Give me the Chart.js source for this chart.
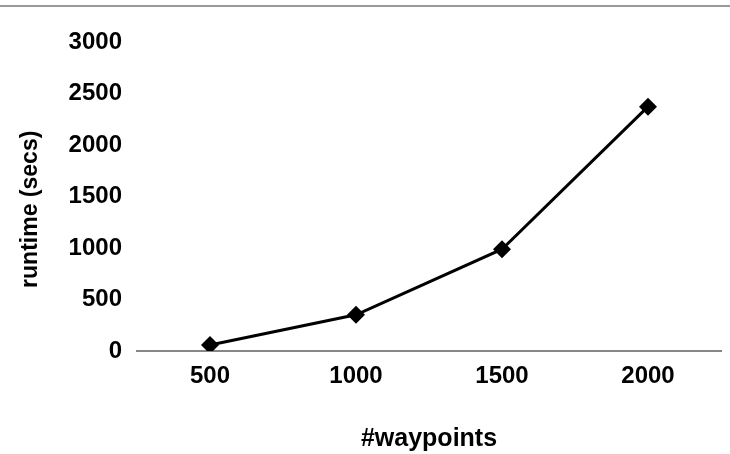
<!DOCTYPE html>
<html>
<head>
<meta charset="utf-8">
<script src="https://cdn.jsdelivr.net/npm/chart.js@4/dist/chart.umd.min.js"></script>
<style>
  html, body { margin: 0; padding: 0; background: #fff; }
  #wrap { width: 730px; height: 454px; }
</style>
</head>
<body>
<div id="wrap"><canvas id="grafica" width="730" height="454"></canvas></div>
<script>
const waypoints = ['500', '1000', '1500', '2000'];
const runtimes = [58, 352, 988, 2372];
const yTicks = [0, 500, 1000, 1500, 2000, 2500, 3000];

// linea gris arriba del grafico
const topLine = {
    id: 'topLine',
    beforeDraw(chart) {
        const c = chart.ctx;
        c.save();
        c.strokeStyle = '#9a9a9a';
        c.lineWidth = 2;
        c.beginPath();
        c.moveTo(0, 6);
        c.lineTo(chart.width, 6);
        c.stroke();
        c.restore();
    }
};

const ctx = document.getElementById('grafica').getContext('2d');
new Chart(ctx, {
    type: 'line',
    data: {
        labels: waypoints,
        datasets: [{
            data: runtimes,
            borderColor: '#000',
            borderWidth: 3,
            backgroundColor: '#000',
            pointStyle: 'rectRot',
            pointRadius: 9,
            pointBorderWidth: 0,
            fill: false,
            tension: 0
        }]
    },
    options: {
        responsive: false,
        animation: false,
        layout: { padding: { top: 42, right: 5, bottom: 0, left: 0 } },
        plugins: { legend: { display: false }, tooltip: { enabled: false } },
        scales: {
            x: {
                offset: true,
                grid: { display: false, drawTicks: false },
                border: { display: true, color: '#868686', width: 2 },
                ticks: {
                    color: '#000',
                    padding: 11,
                    font: { family: 'Liberation Sans', size: 24, weight: 'bold' }
                },
                title: {
                    display: true,
                    text: '#waypoints',
                    color: '#000',
                    padding: { top: 4, bottom: 0 },
                    font: { family: 'Liberation Sans', size: 25, weight: 'bold' }
                },
                afterFit(scale) { scale.height = 103; }
            },
            y: {
                min: 0,
                max: 3000,
                grid: { display: false, drawTicks: false },
                border: { display: false },
                afterBuildTicks(scale) {
                    scale.ticks = yTicks.map(v => ({ value: v }));
                },
                ticks: {
                    color: '#000',
                    padding: 15,
                    callback: v => String(v),
                    font: { family: 'Liberation Sans', size: 24, weight: 'bold' }
                },
                title: {
                    display: true,
                    text: 'runtime (secs)    ', // espacios para bajar el titulo
                    color: '#000',
                    padding: { top: 17, bottom: 0 },
                    font: { family: 'Liberation Sans', size: 23, weight: 'bold' }
                },
                afterFit(scale) { scale.width = 137; }
            }
        }
    },
    plugins: [topLine]
});
</script>
</body>
</html>
